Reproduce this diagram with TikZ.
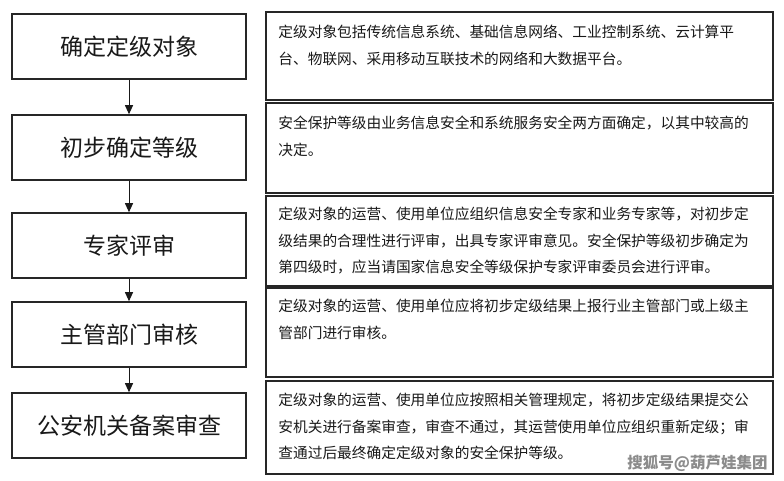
\documentclass[tikz,border=0pt]{standalone}
\usepackage{fontspec}
\setmainfont{Noto Sans CJK SC}
\usetikzlibrary{arrows.meta, positioning}

\tikzset{
    stepbox/.style={draw=black!85, line width=1.6pt, fill=white, inner sep=0pt,
        minimum width=234pt, minimum height=65pt,
        font=\fontsize{23}{26}\selectfont, text=black!90},
    descbox/.style={draw=black!85, line width=1.6pt, fill=white, inner sep=0pt,
        minimum width=507pt},
    desctext/.style={anchor=north west, inner sep=0pt, align=left,
        font=\fontsize{14.7}{26.5}\selectfont, text=black!90},
    flow/.style={-{Triangle[width=8pt,length=9pt]}, line width=1pt, black!90}
}

\begin{document}
\begin{tikzpicture}[x=1pt, y=-1pt]
    \useasboundingbox[fill=white] (0,0) rectangle (784,480);

    % Steps on the left
    \foreach \n/\y/\val in {1/46.5/{确定定级对象}, 2/147.5/{初步确定等级}, 3/245.5/{专家评审},
                            4/334.5/{主管部门审核}, 5/425.5/{公安机关备案审查}} {
        \node[stepbox] (s\n) at (129,\y) {\val};
    }

    % Arrows between steps
    \foreach \a/\b in {1/2, 2/3, 3/4, 4/5} {
        \draw[flow] (s\a.south) -- (s\b.north);
    }

    % Description boxes on the right
    \foreach \n/\y/\h in {1/56/88, 2/148/90, 3/241/90, 4/332.5/89, 5/427.5/93} {
        \node[descbox, minimum height=\h pt] (d\n) at (519.5,\y) {};
    }

    % Description texts
    \node[desctext] (t1) at ([xshift=13pt, yshift=-14pt]d1.north west)
        {定级对象包括传统信息系统、基础信息网络、工业控制系统、云计算平\\台、物联网、采用移动互联技术的网络和大数据平台。};
    \node[desctext] (t2) at ([xshift=13pt, yshift=-14pt]d2.north west)
        {安全保护等级由业务信息安全和系统服务安全两方面确定，以其中较高的\\决定。};
    \node[desctext] (t3) at ([xshift=13pt, yshift=-12pt]d3.north west)
        {定级对象的运营、使用单位应组织信息安全专家和业务专家等，对初步定\\级结果的合理性进行评审，出具专家评审意见。安全保护等级初步确定为\\第四级时，应当请国家信息安全等级保护专家评审委员会进行评审。};
    \node[desctext] (t4) at ([xshift=13pt, yshift=-12pt]d4.north west)
        {定级对象的运营、使用单位应将初步定级结果上报行业主管部门或上级主\\管部门进行审核。};
    \node[desctext] (t5) at ([xshift=13pt, yshift=-13pt]d5.north west)
        {定级对象的运营、使用单位应按照相关管理规定，将初步定级结果提交公\\安机关进行备案审查，审查不通过，其运营使用单位应组织重新定级；审\\查通过后最终确定定级对象的安全保护等级。};

    % Watermark
    \node[anchor=east, inner sep=0pt, font=\fontsize{15.5}{16}\selectfont\bfseries, text=black!45]
        (wm) at ([xshift=-6pt, yshift=11pt]d5.south east) {搜狐号@葫芦娃集团};
\end{tikzpicture}
\end{document}
